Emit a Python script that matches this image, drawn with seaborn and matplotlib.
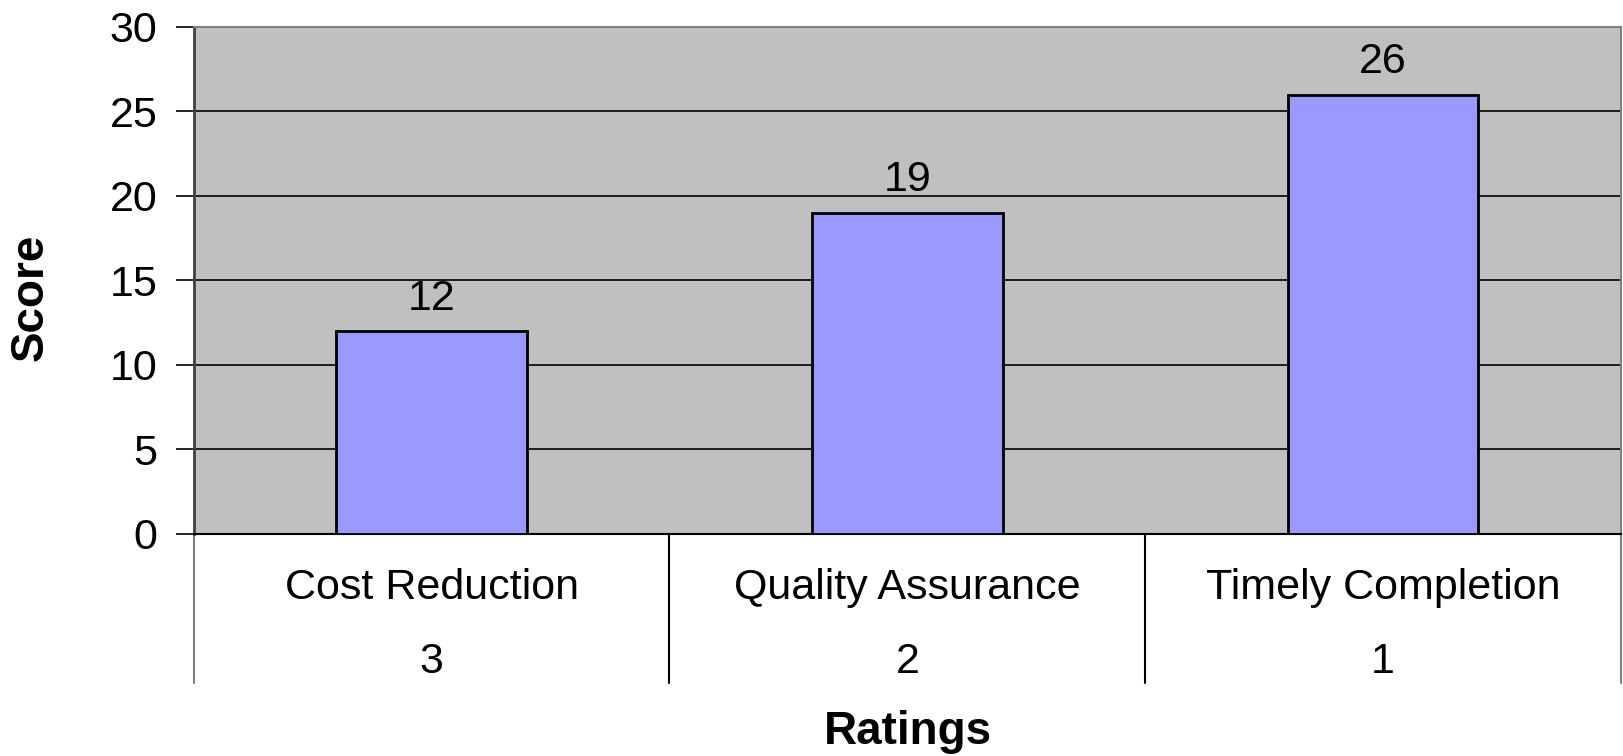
import pandas as pd
import matplotlib.pyplot as plt
from matplotlib.lines import Line2D
import seaborn as sns

categories = ["Cost Reduction", "Quality Assurance", "Timely Completion"]
ratings = ["3", "2", "1"]
scores = [12, 19, 26]

sns.set_style("white")
plt.rcParams["font.family"] = ["Liberation Sans", "DejaVu Sans"]
plt.rcParams["text.color"] = "black"
plt.rcParams["ytick.color"] = "black"
plt.rcParams["ytick.labelcolor"] = "black"

df = pd.DataFrame({"category": categories, "score": scores})

fig = plt.figure(figsize=(16.23, 7.56), dpi=100)
ax = fig.add_axes([0.1193, 0.2937, 0.8795, 0.6706])
ax.set_facecolor("#C0C0C0")

sns.barplot(x="category", y="score", data=df, color="#9999FF", width=0.4,
            edgecolor="black", linewidth=2, saturation=1, ax=ax, zorder=3)

ax.set_ylim(0, 30)
ax.set_xlim(-0.5, len(categories) - 0.5)
ax.set_yticks(range(0, 31, 5))
ax.tick_params(axis="y", labelsize=31, length=13, width=1.2, color="black",
               labelcolor="black", left=True, pad=13)
ax.tick_params(axis="x", bottom=False, labelbottom=False)
ax.yaxis.grid(True, color="black", linewidth=1.2, zorder=1)
ax.set_axisbelow(True)
ax.set_xlabel("")
ax.set_ylabel("")

for side in ["top", "right"]:
    ax.spines[side].set_color("#808080")
    ax.spines[side].set_linewidth(1.5)
ax.spines["left"].set_color("#404040")
ax.spines["left"].set_linewidth(2)
ax.spines["bottom"].set_color("black")
ax.spines["bottom"].set_linewidth(1.5)

# value labels above bars
for p, v in zip(ax.patches, scores):
    ax.annotate(str(v), (p.get_x() + p.get_width() / 2, p.get_height()),
                xytext=(0, 9), textcoords="offset points",
                ha="center", va="bottom", fontsize=31, color="black")

# two-row category table below the axis
trans = ax.get_xaxis_transform()
for i, (c, r) in enumerate(zip(categories, ratings)):
    ax.text(i, -0.107, c, transform=trans, ha="center", va="center",
            fontsize=31, color="black")
    ax.text(i, -0.252, r, transform=trans, ha="center", va="center",
            fontsize=31, color="black")
for xb in [-0.5, 0.5, 1.5, 2.5]:
    col = "#808080" if xb in (-0.5, 2.5) else "black"
    ax.add_line(Line2D([xb, xb], [0, -0.294], transform=trans, color=col,
                       linewidth=1.5, clip_on=False))

fig.text(0.019, 0.607, "Score", rotation=90, ha="center", va="center",
         fontsize=33, fontweight="bold", color="black")
fig.text(0.5595, 0.032, "Ratings", ha="center", va="center",
         fontsize=33, fontweight="bold", color="black")

plt.savefig("out.png", dpi=100)
